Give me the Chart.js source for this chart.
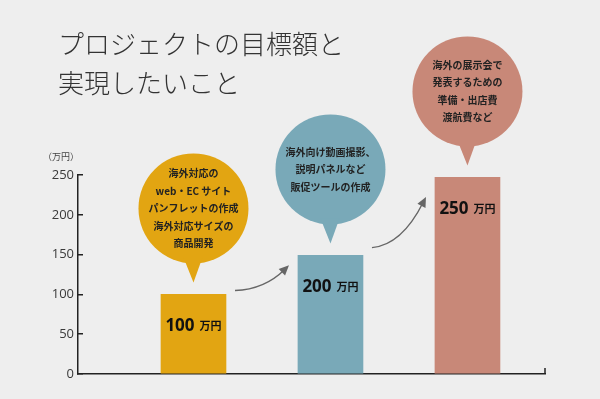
<!DOCTYPE html>
<html lang="ja">
<head>
<meta charset="utf-8">
<script src="https://cdn.jsdelivr.net/npm/chart.js@4"></script>
<style>
  html, body { margin: 0; padding: 0; background: #eeeeee; }
  #wrap { width: 600px; height: 399px; }
</style>
</head>
<body>
<div id="wrap"><canvas id="goalChart"></canvas></div>
<script>
const categories = ['第1段階', '第2段階', '第3段階'];
const barValues = [100, 149, 247];
const amountLabels = ['100', '200', '250'];
const unitLabel = '万円';
const axisUnit = '（万円）';
const titleLines = ['プロジェクトの目標額と', '実現したいこと'];
const bubbleTexts = [
  ['海外対応の', 'web・EC サイト', 'パンフレットの作成', '海外対応サイズの', '商品開発'],
  ['海外向け動画撮影、', '説明パネルなど', '販促ツールの作成'],
  ['海外の展示会で', '発表するための', '準備・出店費', '渡航費など']
];
const barColors = ['#e2a512', '#79a9b8', '#c88878'];

const JP = "'Noto Sans CJK JP', 'Noto Sans', sans-serif";
Chart.defaults.font.family = JP;

// bubbles, arrows, amount labels and axis extras
const decorations = {
  id: 'decorations',
  afterLayout(chart) {
    // title sits a little right of the y tick labels
    if (chart.titleBlock) chart.titleBlock.left = 58;
  },
  afterDatasetsDraw(chart) {
    const ctx = chart.ctx;
    const area = chart.chartArea;
    const bars = chart.getDatasetMeta(0).data;
    ctx.save();

    // x axis end tick + unit label
    ctx.strokeStyle = '#222';
    ctx.lineWidth = 1.5;
    ctx.beginPath();
    ctx.moveTo(area.right, area.bottom);
    ctx.lineTo(area.right, area.bottom - 6);
    ctx.stroke();

    ctx.fillStyle = '#444';
    ctx.font = '9px ' + JP;
    ctx.textAlign = 'center';
    ctx.textBaseline = 'middle';
    ctx.fillText(axisUnit, area.left - 17, area.top - 18);

    // arrows between bars
    for (let i = 0; i < bars.length - 1; i++) {
      const a = bars[i], b = bars[i + 1];
      const diff = a.y - b.y;
      const x0 = a.x + a.width / 2 + 9, y0 = a.y - diff * 0.1;
      const x1 = b.x - b.width / 2 - 9, y1 = b.y + diff * 0.25;
      const qx = x0 + (x1 - x0) * 0.55, qy = y0 - (y0 - y1) * 0.05;
      const ang = Math.atan2(y1 - qy, x1 - qx);
      const ex = x1 - Math.cos(ang) * 6, ey = y1 - Math.sin(ang) * 6;
      ctx.strokeStyle = '#666';
      ctx.fillStyle = '#666';
      ctx.lineWidth = 1.4;
      ctx.beginPath();
      ctx.moveTo(x0, y0);
      ctx.quadraticCurveTo(qx, qy, ex, ey);
      ctx.stroke();
      ctx.beginPath();
      ctx.moveTo(x1, y1);
      ctx.lineTo(x1 - Math.cos(ang) * 10 - Math.sin(ang) * 4.5, y1 - Math.sin(ang) * 10 + Math.cos(ang) * 4.5);
      ctx.lineTo(x1 - Math.cos(ang) * 10 + Math.sin(ang) * 4.5, y1 - Math.sin(ang) * 10 - Math.cos(ang) * 4.5);
      ctx.closePath();
      ctx.fill();
    }

    bars.forEach((bar, i) => {
      // speech bubble
      const cx = bar.x, cy = bar.y - 86, r = 55, tipY = bar.y - 12;
      ctx.fillStyle = barColors[i];
      ctx.beginPath();
      ctx.arc(cx, cy, r, 0, Math.PI * 2);
      ctx.fill();
      ctx.beginPath();
      ctx.moveTo(cx - 10, cy + r - 6);
      ctx.lineTo(cx + 9, cy + r - 6);
      ctx.lineTo(cx, tipY);
      ctx.closePath();
      ctx.fill();

      const lines = bubbleTexts[i];
      const lh = 17.5;
      ctx.fillStyle = '#222';
      ctx.font = 'bold 10px ' + JP;
      ctx.textAlign = 'center';
      ctx.textBaseline = 'middle';
      lines.forEach((t, k) => {
        ctx.fillText(t, cx, cy + (k - (lines.length - 1) / 2) * lh);
      });

      // amount label inside bar
      const numFont = 'bold 17px "Noto Sans", sans-serif';
      const unitFont = 'bold 11px ' + JP;
      ctx.font = numFont;
      const nw = ctx.measureText(amountLabels[i]).width;
      ctx.font = unitFont;
      const uw = ctx.measureText(unitLabel).width;
      const gap = 5;
      const startX = bar.x - (nw + gap + uw) / 2;
      const baseY = bar.y + 37;
      ctx.textAlign = 'left';
      ctx.textBaseline = 'alphabetic';
      ctx.fillStyle = '#111';
      ctx.font = numFont;
      ctx.fillText(amountLabels[i], startX, baseY);
      ctx.font = unitFont;
      ctx.fillText(unitLabel, startX + nw + gap, baseY - 1);
    });

    ctx.restore();
  }
};

new Chart(document.getElementById('goalChart'), {
  type: 'bar',
  data: {
    labels: categories,
    datasets: [{
      data: categories.map((c, i) => ({ x: i + 1, y: barValues[i] })),
      backgroundColor: barColors,
      barThickness: 65
    }]
  },
  options: {
    responsive: true,
    maintainAspectRatio: false,
    animation: false,
    layout: { padding: { left: 44, right: 55, top: 0, bottom: 17 } },
    plugins: {
      legend: { display: false },
      tooltip: { enabled: false },
      title: {
        display: true,
        text: titleLines,
        align: 'start',
        color: '#333',
        font: { size: 26, weight: '300', family: JP, lineHeight: 1.52 },
        padding: { top: 24, bottom: 72 }
      }
    },
    scales: {
      x: {
        type: 'linear',
        offset: false,
        min: 0.157,
        max: 3.566,
        ticks: { display: false },
        grid: { display: false },
        border: { display: true, color: '#222', width: 1.5 }
      },
      y: {
        min: 0,
        max: 250,
        afterFit(scale) { scale.width = 34; },
        ticks: {
          stepSize: 50,
          padding: 9,
          color: '#3a3a3a',
          font: { family: "'Open Sans', sans-serif", size: 13 }
        },
        grid: {
          drawOnChartArea: false,
          tickLength: -5,
          color: '#222',
          lineWidth: 1.5
        },
        border: { display: true, color: '#222', width: 1.5 }
      }
    }
  },
  plugins: [decorations]
});
</script>
</body>
</html>
